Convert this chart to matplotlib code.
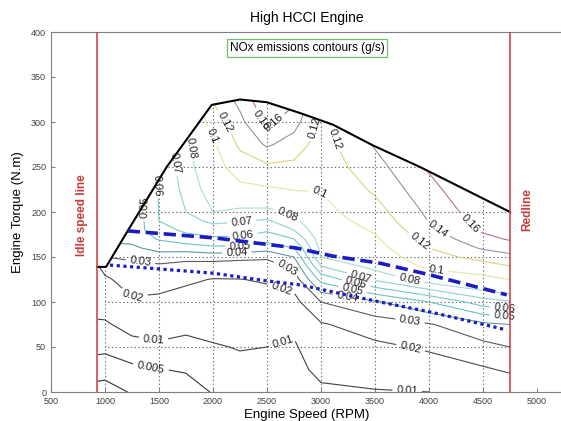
import numpy as np
import matplotlib
matplotlib.use("Agg")
import matplotlib.pyplot as plt
from matplotlib.patches import Polygon

plt.rcParams['font.family'] = ['Liberation Sans', 'DejaVu Sans']

# engine speed grid (RPM) and torque grid (N.m) of the NOx map
speed = [930, 1000, 1250, 1500, 1750, 2000, 2250, 2500, 2750, 3000, 3500, 4000, 4500, 4750]
torque = [0, 25, 50, 75, 100, 125, 140, 150, 160, 170, 180, 190, 200, 225, 250, 275, 300, 330]

# NOx (g/s), one list per speed column, values along the torque grid
nox_cols = [
    [0.001, 0.0031, 0.006, 0.0091, 0.0129, 0.0168, 0.0192, 0.021, 0.024, 0.027, 0.030, 0.033, 0.036, 0.040, 0.045, 0.050, 0.055, 0.060],
    [0.001, 0.0029, 0.0059, 0.0091, 0.0135, 0.0183, 0.0238, 0.030, 0.036, 0.042, 0.048, 0.050, 0.052, 0.055, 0.058, 0.060, 0.062, 0.065],
    [0.0022, 0.0041, 0.0075, 0.0126, 0.0186, 0.0245, 0.0281, 0.0313, 0.038, 0.043, 0.045, 0.042, 0.040, 0.040, 0.040, 0.042, 0.045, 0.050],
    [0.003, 0.0049, 0.0088, 0.0131, 0.0178, 0.0239, 0.0285, 0.035, 0.0438, 0.0509, 0.0555, 0.060, 0.0603, 0.061, 0.062, 0.064, 0.066, 0.068],
    [0.0035, 0.0053, 0.0082, 0.0116, 0.0162, 0.0215, 0.027, 0.0329, 0.045, 0.0556, 0.0623, 0.0662, 0.070, 0.073, 0.075, 0.077, 0.079, 0.080],
    [0.0052, 0.0073, 0.0094, 0.0125, 0.0161, 0.0196, 0.026, 0.034, 0.0478, 0.058, 0.0653, 0.0723, 0.080, 0.0856, 0.0911, 0.0967, 0.1074, 0.125],
    [0.006, 0.0081, 0.0104, 0.0135, 0.0166, 0.0198, 0.0259, 0.0325, 0.0478, 0.058, 0.0647, 0.0706, 0.0769, 0.0948, 0.1103, 0.1236, 0.1347, 0.148],
    [0.006, 0.008, 0.010, 0.0134, 0.0168, 0.0208, 0.0265, 0.0314, 0.0444, 0.0538, 0.0614, 0.0686, 0.0762, 0.0974, 0.1157, 0.143, 0.165, 0.180],
    [0.006, 0.0075, 0.009, 0.0117, 0.0169, 0.0245, 0.0323, 0.040, 0.050, 0.060, 0.070, 0.0767, 0.0834, 0.1006, 0.1153, 0.1306, 0.148, 0.168],
    [0.0085, 0.0121, 0.0156, 0.019, 0.030, 0.0533, 0.070, 0.080, 0.0828, 0.0856, 0.0883, 0.0911, 0.0939, 0.1008, 0.1075, 0.111, 0.115, 0.120],
    [0.0095, 0.0136, 0.0179, 0.025, 0.0386, 0.0714, 0.084, 0.0884, 0.0929, 0.0973, 0.102, 0.107, 0.112, 0.1233, 0.1326, 0.142, 0.150, 0.160],
    [0.010, 0.0154, 0.0213, 0.0291, 0.050, 0.0857, 0.104, 0.112, 0.120, 0.1271, 0.1343, 0.1407, 0.1444, 0.1535, 0.1625, 0.170, 0.175, 0.180],
    [0.0125, 0.0188, 0.0271, 0.0377, 0.065, 0.0941, 0.1125, 0.1267, 0.1424, 0.1541, 0.163, 0.168, 0.172, 0.180, 0.185, 0.190, 0.195, 0.200],
    [0.013, 0.0214, 0.030, 0.040, 0.0688, 0.100, 0.120, 0.1343, 0.1492, 0.162, 0.168, 0.173, 0.178, 0.185, 0.190, 0.195, 0.200, 0.205],
]

levels = [0.002, 0.005, 0.01, 0.02, 0.03, 0.04, 0.05, 0.06, 0.07, 0.08, 0.1, 0.12, 0.14, 0.16]
level_colors = ['#303030', '#383838', '#404040', '#4a4a4a', '#5a5a5a', '#5f9a9e', '#6cc0c6',
                '#74c8cc', '#8cd2d0', '#a6dcd2', '#e6e6a0', '#d8d47c', '#a08ca8', '#b4709a']

# max torque curve
env_speed = [930, 1010, 1210, 1571, 1988, 2250, 2497, 2805, 3111, 3481, 3917, 4750]
env_torque = [139, 139, 179, 250, 319, 325, 322, 310, 297, 274, 250, 200]

# HCCI boundaries (blue)
dash_speed = [1210, 2030, 2770, 3110, 3550, 3980, 4720]
dash_torque = [179, 171, 160, 151, 143, 131, 108]
dot_speed = [1046, 2003, 2466, 2806, 3546, 4009, 4719]
dot_torque = [141, 132, 124, 119, 100, 89, 69]

idle_rpm = 930
red_rpm = 4750

x_ticks = list(range(500, 5001, 500))
y_ticks = list(range(0, 401, 50))

# where the contour labels sit
label_pos = [
    (1400, 15),
    (1430, 47), (2640, 58), (3800, 5),
    (1260, 106), (2640, 117), (3824, 47),
    (1330, 147), (2690, 139), (3824, 79),
    (2220, 155), (3238, 101),
    (2250, 162), (3285, 110), (1420, 205), (4700, 86),
    (2284, 172), (3315, 117), (1510, 230), (4700, 94),
    (2266, 190), (3361, 124), (1690, 255),
    (1840, 272), (2682, 196), (3824, 128),
    (2010, 285), (2990, 222), (4071, 133),
    (2120, 300), (3157, 282), (3886, 163), (2900, 295),
    (2400, 300), (4071, 180),
    (2520, 305), (4333, 182),
]

fig = plt.figure(figsize=(5.61, 4.21), dpi=100)
ax = fig.add_axes([51 / 561, 29 / 421, 512 / 561, 360 / 421])

nox = np.array(nox_cols).T

env_poly = list(zip(env_speed, env_torque)) + [(red_rpm, 0), (idle_rpm, 0)]
grid_poly = [(1000, 0), (1000, 139)] + list(zip(env_speed[1:], env_torque[1:])) + [(red_rpm, 0)]
clip_env = Polygon(env_poly, closed=True, transform=ax.transData)
clip_grid = Polygon(grid_poly, closed=True, transform=ax.transData)

# dotted grid only inside the operating region
gv = ax.vlines(x_ticks, 0, 400, colors='#6a6a6a', linestyles=(0, (1.2, 2.2)), linewidth=0.8, zorder=1)
gh = ax.hlines(y_ticks, 500, 5500, colors='#6a6a6a', linestyles=(0, (1.2, 2.2)), linewidth=0.8, zorder=1)
gv.set_clip_path(clip_grid)
gh.set_clip_path(clip_grid)

cs = ax.contour(speed, torque, nox, levels=levels, colors=level_colors, linewidths=0.8, zorder=2)
ax.clabel(cs, manual=label_pos, inline=True, inline_spacing=2,
          fontsize=8, colors='#202020', fmt=lambda v: f'{v:g}')
cs.set_clip_path(clip_env)

ax.plot(env_speed, env_torque, color='black', lw=1.5, zorder=4)
ax.plot(dash_speed, dash_torque, color='#1c1cc0', lw=2.6, dashes=(3.4, 1.6), zorder=5)
ax.plot(dot_speed, dot_torque, color='#1c1cc0', lw=2.3, dashes=(1, 1.1), zorder=5)

ax.axvline(idle_rpm, color='#cc3a3a', lw=1.1, zorder=6)
ax.axvline(red_rpm, color='#cc3a3a', lw=1.1, zorder=6)
ax.text(784, 197, 'Idle speed line', rotation=90, ha='center', va='center',
        color='#c83c3c', fontsize=8.5, fontweight='bold')
ax.text(4913, 203, 'Redline', rotation=90, ha='center', va='center',
        color='#c83c3c', fontsize=8.5, fontweight='bold')

ax.text(0.5, 0.955, 'NOx emissions contours (g/s)', transform=ax.transAxes, ha='center', va='center',
        fontsize=8.5, bbox=dict(boxstyle='square,pad=0.25', fc='white', ec='#6cc46c', lw=0.9))

ax.set_xlim(500, 500 + 512 / 0.108)
ax.set_ylim(0, 400)
ax.set_xticks(x_ticks)
ax.set_yticks(y_ticks)
ax.tick_params(direction='in', length=3, labelsize=6.5, labelcolor='#404040', color='#808080')
for side in ['left', 'bottom', 'top']:
    ax.spines[side].set_color('#808080')
ax.spines['right'].set_visible(False)

ax.set_title('High HCCI Engine', fontsize=10, pad=7)
ax.set_xlabel('Engine Speed (RPM)', fontsize=9.5, labelpad=2)
ax.set_ylabel('Engine Torque (N.m)', fontsize=9.5, labelpad=5)

fig.savefig('out.png', dpi=100)
